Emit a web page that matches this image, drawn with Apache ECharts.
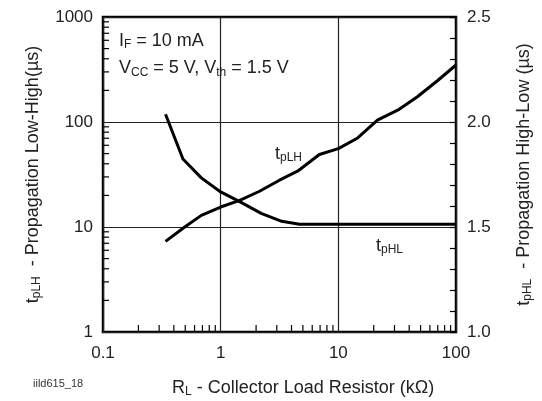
<!DOCTYPE html>
<html><head><meta charset="utf-8">
<script src="https://cdn.jsdelivr.net/npm/echarts/dist/echarts.min.js"></script>
<style>html,body{margin:0;padding:0;background:#fff}#c{width:542px;height:401px}</style>
</head><body><div id="c"></div>
<script>
// Data
const tpLH_x = [0.34, 0.495, 0.685, 1.0, 1.45, 2.14, 3.16, 4.5, 6.9, 10, 14.6, 21.5, 32.9, 47, 69.5, 100];
const tpLH_y = [7.3, 10, 12.9, 15.5, 17.9, 21.9, 27.9, 34, 49, 55.7, 70.5, 104, 132, 174, 247, 349];
const tpHL_x = [0.34, 0.478, 0.685, 1.0, 1.45, 2.21, 3.3, 4.67, 10, 100];
const tpHL_y = [2.037, 1.824, 1.734, 1.667, 1.621, 1.565, 1.527, 1.513, 1.513, 1.513];
// Tick values
const xMinorTicks = [0.2,0.3,0.4,0.5,0.6,0.7,0.8,0.9, 2,3,4,5,6,7,8,9, 20,30,40,50,60,70,80,90];
const yMinorTicks = [2,3,4,5,6,7,8,9, 20,30,40,50,60,70,80,90, 200,300,400,500,600,700,800,900];

const TXT = '#222';
const FONT = '"Liberation Sans", Arial, Helvetica, sans-serif';
const rich = {
  m: {fontSize: 18, lineHeight: 20, fontFamily: FONT, fill: TXT, color: TXT},
  s: {fontSize: 12, lineHeight: 8, verticalAlign: 'bottom', fontFamily: FONT, fill: TXT, color: TXT}
};
function txt(left, top, text, extra) {
  return Object.assign({type: 'text', left: left, top: top, silent: true,
    style: {text: text, rich: rich, fill: TXT, font: '18px ' + FONT}}, extra || {});
}

const chart = echarts.init(document.getElementById('c'), null, {renderer: 'canvas'});
const fmt = v => String(Math.round(v * 1000) / 1000);
chart.setOption({
  animation: false,
  backgroundColor: '#fff',
  grid: {left: 103, right: 85, top: 17, bottom: 69, show: true, borderColor: '#000', borderWidth: 2.5, containLabel: false},
  xAxis: {
    type: 'log', logBase: 10, min: 0.1, max: 100,
    axisLine: {show: false},
    axisTick: {show: false},
    axisLabel: {formatter: fmt, fontSize: 17, color: TXT, fontFamily: FONT, margin: 13},
    splitLine: {show: true, lineStyle: {color: '#222', width: 1.2}}
  },
  yAxis: [{
    type: 'log', logBase: 10, min: 1, max: 1000,
    axisLine: {show: false},
    axisTick: {show: false},
    axisLabel: {formatter: fmt, fontSize: 17, color: TXT, fontFamily: FONT, margin: 10},
    splitLine: {show: true, lineStyle: {color: '#222', width: 1.2}},
    name: '{m|t}{s|pLH}{m|  - Propagation Low-High(µs)}',
    nameLocation: 'middle', nameRotate: 90, nameGap: 60,
    nameTextStyle: {fontSize: 18, lineHeight: 20, color: TXT, fontFamily: FONT, rich: rich}
  }, {
    type: 'value', min: 1.0, max: 2.5, interval: 0.5, position: 'right',
    axisLine: {show: false},
    axisTick: {show: true, inside: true, length: 6, lineStyle: {color: '#000', width: 1.2}},
    minorTick: {show: true, splitNumber: 5, length: 6, lineStyle: {color: '#000', width: 1.2}},
    axisLabel: {formatter: v => v.toFixed(1), fontSize: 17, color: TXT, fontFamily: FONT, margin: 11},
    splitLine: {show: false},
    name: '{m|t}{s|pHL}{m|  - Propagation High-Low (µs)}',
    nameLocation: 'middle', nameRotate: 90, nameGap: 58,
    nameTextStyle: {fontSize: 18, lineHeight: 20, color: TXT, fontFamily: FONT, rich: rich}
  }],
  series: [{
    name: 'tpLH', type: 'line', yAxisIndex: 0, symbol: 'none', smooth: false,
    lineStyle: {color: '#000', width: 3}, z: 10,
    data: tpLH_x.map((x, i) => [x, tpLH_y[i]])
  }, {
    name: 'tpHL', type: 'line', yAxisIndex: 1, symbol: 'none', smooth: false,
    lineStyle: {color: '#000', width: 3}, z: 10,
    data: tpHL_x.map((x, i) => [x, tpHL_y[i]])
  }, {
    type: 'custom', xAxisIndex: 0, yAxisIndex: 0, silent: true, clip: false, z: 8,
    data: xMinorTicks.map(v => [v, 1]),
    renderItem: (params, api) => {
      const p = api.coord([api.value(0), api.value(1)]);
      return {type: 'line', shape: {x1: p[0], y1: p[1], x2: p[0], y2: p[1] - 7}, style: {stroke: '#000', lineWidth: 1.2}};
    }
  }, {
    type: 'custom', xAxisIndex: 0, yAxisIndex: 0, silent: true, clip: false, z: 8,
    data: yMinorTicks.map(v => [0.1, v]),
    renderItem: (params, api) => {
      const p = api.coord([api.value(0), api.value(1)]);
      return {type: 'line', shape: {x1: p[0], y1: p[1], x2: p[0] + 6, y2: p[1]}, style: {stroke: '#000', lineWidth: 1.2}};
    }
  }],
  graphic: [
    txt(119, 32, '{m|I}{s|F}{m| = 10 mA}'),
    txt(119, 59.5, '{m|V}{s|CC}{m| = 5 V, V}{s|th}{m| = 1.5 V}'),
    txt(275, 145, '{m|t}{s|pLH}'),
    txt(376, 237, '{m|t}{s|pHL}'),
    txt(172, 379, '{m|R}{s|L}{m| - Collector Load Resistor (kΩ)}'),
    {type: 'text', left: 33, top: 378, silent: true, style: {text: 'iild615_18', fill: '#333', font: '11px ' + FONT}}
  ]
});
</script>
</body></html>
